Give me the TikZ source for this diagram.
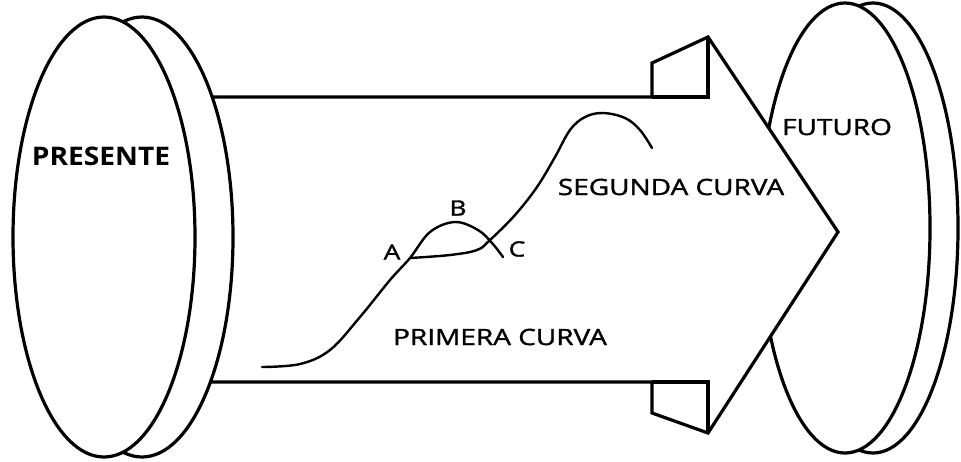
\documentclass[tikz,border=0pt]{standalone}
\usepackage{fontspec}
\setmainfont{Open Sans}
\newfontfamily\lblfont[FakeStretch=1.25,FakeBold=1.5]{Open Sans}
\newfontfamily\ttlfont[FakeStretch=1.1]{Open Sans}
\usetikzlibrary{positioning}
\tikzset{
  disc/.style={draw,fill=white,line width=1.6pt},
  outl/.style={draw,line width=1.6pt,line join=miter},
  curv/.style={line width=1.2pt,line cap=round},
  lbl/.style={font=\lblfont\fontsize{11.2}{13}\selectfont,inner sep=0pt},
  pnt/.style={font=\lblfont\fontsize{10.5}{12}\selectfont,inner sep=0pt},
  ttl/.style={font=\ttlfont\bfseries\fontsize{12.8}{15}\selectfont,inner sep=0pt}
}

\begin{document}
\begin{tikzpicture}[x=0.5pt,y=-0.5pt]
  \useasboundingbox (0,0) rectangle (961,461);
  % future disc, behind the arrow
  \draw[disc] (873,228) ellipse [x radius=85,y radius=225];
  \draw[disc] (845,228) ellipse [x radius=85,y radius=225];
  % arrow
  \draw[outl,fill=white] (150,97) -- (652,97) -- (652,63) -- (708,37) -- (838,232)
    -- (708,433) -- (652,413) -- (652,382) -- (150,382) -- cycle;
  \draw[outl] (652,97) -- (708,97) -- (708,37);
  \draw[outl] (652,382) -- (708,382) -- (708,433);
  % present disc, in front
  \draw[disc] (142,237) ellipse [x radius=91,y radius=220];
  \draw[disc] (104,237) ellipse [x radius=91,y radius=220];
  % curves
  \draw[curv] plot[smooth,tension=0.6] coordinates {(262,367) (300,364) (330,350) (360,317)
    (390,280) (410,258) (430,232) (455,222) (478,230) (492,243) (503,257)};
  \draw[curv] plot[smooth,tension=0.6] coordinates {(410,258) (450,255) (477,250) (490,240)
    (515,215) (537,187) (555,157) (570,130) (585,117) (603,113) (625,118) (640,130) (652,148)};
  % labels
  \node[ttl] (pres) at (101,156) {PRESENTE};
  \node[lbl] (fut) at (837,127) {FUTURO};
  \node[lbl] (seg) at (671,187) {SEGUNDA CURVA};
  \node[lbl] (prim) at (500,337) {PRIMERA CURVA};
  \node[pnt] (ptA) at (392,252) {A};
  \node[pnt] (ptB) at (458,208) {B};
  \node[pnt] (ptC) at (517,249) {C};
\end{tikzpicture}
\end{document}
